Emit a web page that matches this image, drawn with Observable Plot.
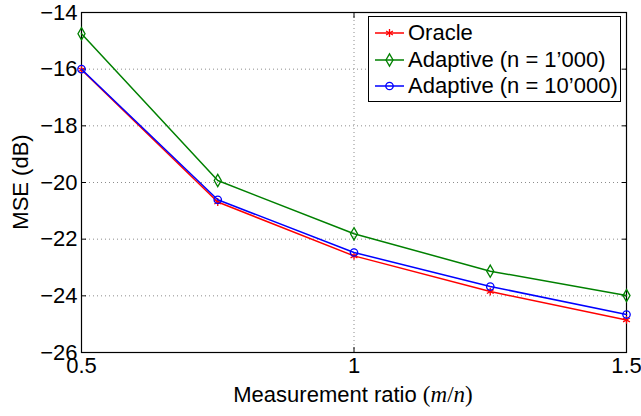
<!DOCTYPE html>
<html>
<head>
<meta charset="utf-8">
<script src="https://cdn.jsdelivr.net/npm/d3@7"></script>
<script src="https://cdn.jsdelivr.net/npm/@observablehq/plot@0.6"></script>
<style>
  html, body { margin: 0; padding: 0; background: white; }
  #wrap { position: relative; width: 641px; height: 416px; font-family: "Liberation Sans", Arial, Helvetica, sans-serif; }
  #legend { position: absolute; left: 368px; top: 16px; width: 251px; height: 81px; border: 1px solid black; background: white; padding-top: 3px; box-sizing: content-box; }
  .row { display: flex; align-items: center; height: 26.5px; font-size: 22px; white-space: nowrap; }
  .row svg { width: 39px; height: 26px; flex: none; }
  #xlabel { position: absolute; left: 0; width: 706px; top: 382px; text-align: center; font-size: 22px; white-space: nowrap; }
  #xlabel .m { font-family: "Liberation Serif", "DejaVu Serif", serif; font-size: 23px; }
  #ylabel { position: absolute; left: 21px; top: 182px; transform: translate(-50%, -50%) rotate(-90deg); font-size: 22px; white-space: nowrap; }
</style>
</head>
<body>
<div id="wrap"></div>
<script>
const xValues = [0.5, 0.75, 1.0, 1.25, 1.5];
const oracle = [-16.02, -20.69, -22.59, -23.85, -24.85];
const adaptive1k = [-14.75, -19.93, -21.81, -23.13, -23.99];
const adaptive10k = [-16.0, -20.61, -22.47, -23.67, -24.66];
const seriesNames = ["Oracle", "Adaptive (n = 1\u2019000)", "Adaptive (n = 10\u2019000)"];
const seriesColors = ["#ff0000", "#008000", "#0000ff"];
const seriesSymbols = ["asterisk", "diamond", "circle"];
const xTicks = [0.5, 1, 1.5];
const xTickLabels = ["0.5", "1", "1.5"];
const yTicks = [-26, -24, -22, -20, -18, -16, -14];
const xLabel = "Measurement ratio";
const yLabel = "MSE (dB)";

const seriesValues = [oracle, adaptive1k, adaptive10k];
const series = seriesNames.map((name, i) => ({
  name, color: seriesColors[i], symbol: seriesSymbols[i],
  rows: xValues.map((x, j) => ({x, y: seriesValues[i][j], name}))
}));

const gridStyle = {stroke: "#8c8c8c", strokeOpacity: 1, strokeWidth: 1, strokeDasharray: "1,3"};
const marks = [
  Plot.gridY(yTicks, gridStyle),
  Plot.gridX(xTicks, gridStyle),
  Plot.axisX(xTicks, {anchor: "bottom", tickSize: -5, tickPadding: 10, fontSize: 22, tickFormat: (d) => xTickLabels[xTicks.indexOf(d)], label: null, stroke: "black", fill: "black"}),
  Plot.axisX(xTicks, {anchor: "top", tickSize: -5, tickFormat: () => "", label: null, stroke: "black"}),
  Plot.axisY(yTicks, {anchor: "left", tickSize: -5, tickPadding: 9, fontSize: 22, tickFormat: d3.format("d"), label: null, stroke: "black", fill: "black"}),
  Plot.axisY(yTicks, {anchor: "right", tickSize: -5, tickFormat: () => "", label: null, stroke: "black"}),
  Plot.frame({stroke: "black", strokeWidth: 1.2})
];
for (const s of series) {
  marks.push(Plot.line(s.rows, {x: "x", y: "y", stroke: s.color, strokeWidth: 1.5}));
  marks.push(Plot.dot(s.rows, {x: "x", y: "y", stroke: s.color, fill: "none", symbol: s.symbol, r: 3.7, strokeWidth: 1.3}));
}

const chart = Plot.plot({
  width: 641, height: 416,
  marginLeft: 81, marginRight: 15, marginTop: 12, marginBottom: 64,
  x: {domain: [0.5, 1.5]},
  y: {domain: [-26, -14]},
  style: {fontFamily: '"Liberation Sans", Arial, Helvetica, sans-serif', fontSize: "22px", color: "black", background: "white", overflow: "visible"},
  marks
});
const wrap = document.getElementById("wrap");
wrap.appendChild(chart);

// legend
const legend = document.createElement("div");
legend.id = "legend";
const symMap = {asterisk: d3.symbolAsterisk, diamond: d3.symbolDiamond, circle: d3.symbolCircle};
for (const s of series) {
  const row = document.createElement("div");
  row.className = "row";
  const svg = d3.create("svg").attr("viewBox", "0 0 39 26");
  svg.append("line").attr("x1", 6).attr("x2", 35).attr("y1", 13).attr("y2", 13).attr("stroke", s.color).attr("stroke-width", 1.5);
  svg.append("path").attr("transform", "translate(20.5,13)").attr("d", d3.symbol(symMap[s.symbol], Math.PI * 3.7 * 3.7)()).attr("fill", "none").attr("stroke", s.color).attr("stroke-width", 1.3);
  row.appendChild(svg.node());
  const t = document.createElement("span");
  t.textContent = s.name;
  row.appendChild(t);
  legend.appendChild(row);
}
wrap.appendChild(legend);

const xl = document.createElement("div");
xl.id = "xlabel";
xl.innerHTML = xLabel + ' <span class="m">(<i>m</i>/<i>n</i>)</span>';
wrap.appendChild(xl);

const yl = document.createElement("div");
yl.id = "ylabel";
yl.textContent = yLabel;
wrap.appendChild(yl);
</script>
</body>
</html>
